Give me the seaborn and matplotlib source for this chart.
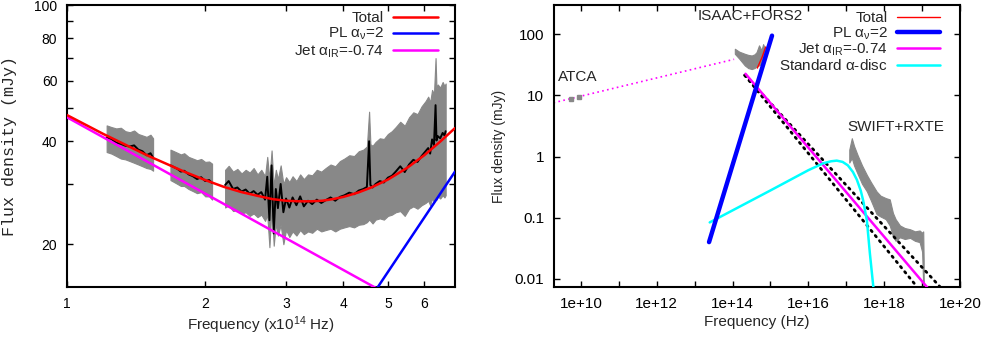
import numpy as np
import pandas as pd
import matplotlib
matplotlib.use("Agg")
import matplotlib.pyplot as plt
from matplotlib.lines import Line2D
from matplotlib.ticker import NullLocator, FixedLocator, FixedFormatter
import seaborn as sns

# ---------------- left panel: IR/optical spectrum (x1e14 Hz, mJy) ----------------
seg1_nu = [1.22, 1.25, 1.28, 1.31, 1.34, 1.37, 1.40, 1.43, 1.46, 1.49, 1.52, 1.54]
seg1_f = [41.0, 40.6, 39.6, 39.3, 38.8, 38.6, 38.9, 37.8, 37.4, 36.4, 36.9, 35.8]
seg1_hi = [44.5, 44.0, 43.6, 43.8, 42.8, 42.5, 43.0, 42.0, 41.6, 41.2, 41.8, 40.8]
seg1_lo = [37.2, 36.8, 36.2, 35.6, 35.4, 35.0, 34.6, 34.2, 33.8, 33.4, 33.2, 32.8]

seg2_nu = [1.68, 1.71, 1.74, 1.77, 1.80, 1.84, 1.88, 1.92, 1.96, 2.00, 2.04, 2.07]
seg2_f = [34.0, 33.6, 33.2, 32.6, 32.8, 32.0, 31.6, 31.0, 31.4, 30.6, 30.8, 30.2]
seg2_hi = [37.8, 37.4, 37.0, 36.6, 36.9, 36.0, 35.6, 35.2, 35.5, 34.8, 34.9, 34.4]
seg2_lo = [30.8, 30.4, 30.0, 29.6, 29.6, 29.0, 28.6, 28.2, 28.4, 27.6, 27.6, 27.0]

seg3_nu = [2.21, 2.25, 2.30, 2.35, 2.40, 2.45, 2.50, 2.55, 2.60, 2.65, 2.70, 2.73, 2.76,
           2.79, 2.82, 2.85, 2.88, 2.92, 2.96, 3.00, 3.05, 3.10, 3.16, 3.22, 3.28, 3.35,
           3.42, 3.50, 3.58, 3.66, 3.75, 3.84, 3.93, 4.02, 4.12, 4.22, 4.32, 4.42, 4.50,
           4.55, 4.58, 4.63, 4.70, 4.80, 4.90, 5.00, 5.10, 5.20, 5.32, 5.44, 5.56, 5.68,
           5.80, 5.92, 6.04, 6.12, 6.18, 6.24, 6.30, 6.35, 6.38, 6.42, 6.50, 6.58, 6.64, 6.68]
seg3_f = [29.8, 30.6, 29.0, 29.3, 28.5, 28.9, 28.1, 28.6, 27.9, 28.4, 27.0, 31.5, 23.5,
          34.0, 21.5, 29.0, 25.5, 30.0, 24.8, 27.2, 25.6, 27.4, 26.0, 27.6, 25.8, 26.8,
          26.2, 27.0, 26.4, 26.9, 27.4, 26.8, 27.5, 27.8, 28.3, 28.0, 28.7, 29.0, 29.4,
          40.0, 29.8, 29.3, 30.0, 30.6, 30.3, 31.3, 31.7, 32.6, 33.8, 32.5, 34.2, 35.3,
          34.8, 36.2, 37.4, 38.2, 36.8, 40.5, 39.0, 51.0, 40.2, 41.4, 40.8, 42.3, 41.6, 42.8]
seg3_hi = [33.0, 33.9, 32.6, 33.2, 32.2, 33.0, 32.4, 33.4, 32.0, 33.0, 31.6, 36.0, 31.0,
           37.6, 29.6, 33.0, 31.0, 34.0, 30.0, 31.4, 30.4, 31.6, 30.6, 32.0, 31.0, 32.0,
           31.8, 33.0, 32.6, 33.4, 34.2, 33.8, 35.0, 35.6, 36.4, 36.2, 37.4, 37.8, 38.6,
           48.8, 39.2, 38.8, 39.8, 40.8, 40.6, 42.0, 42.8, 44.0, 45.6, 44.4, 47.0, 48.6,
           48.0, 50.6, 52.4, 54.0, 52.0, 56.5, 55.0, 70.0, 57.0, 58.6, 57.4, 59.6, 58.0, 59.0]
seg3_lo = [25.6, 26.0, 25.0, 25.2, 24.6, 24.8, 24.2, 24.6, 24.0, 24.4, 23.4, 24.4, 19.6,
           26.0, 19.8, 23.0, 21.2, 22.8, 20.0, 22.0, 21.0, 21.8, 21.2, 22.0, 21.4, 21.8,
           21.6, 22.2, 21.8, 22.0, 22.2, 21.8, 22.2, 22.4, 22.6, 22.4, 22.8, 22.9, 23.2,
           23.6, 23.4, 23.0, 23.6, 23.8, 23.6, 24.2, 24.4, 24.8, 25.0, 24.2, 25.4, 25.8,
           25.4, 26.0, 26.4, 26.8, 26.0, 27.2, 26.6, 27.4, 27.0, 27.6, 27.2, 27.8, 27.4, 27.8]

total_nu = [1.0, 1.2, 1.5, 1.8, 2.0, 2.2, 2.4, 2.6, 2.8, 3.0, 3.2, 3.4, 3.6, 3.8, 4.0,
            4.3, 4.6, 5.0, 5.5, 6.0, 6.5, 7.0]
total_f = [47.7, 42.0, 36.3, 32.6, 30.8, 29.4, 28.4, 27.7, 27.1, 26.8, 26.7, 26.7, 26.8,
           27.1, 27.5, 28.3, 29.3, 30.9, 33.4, 36.4, 39.9, 43.7]
jet_nu = [1.0, 7.0]
jet_f = [47.0, 11.1]
pl_nu = [4.0, 7.0]
pl_f = [10.6, 32.6]

# ---------------- right panel: broadband SED (Hz, mJy) ----------------
atca_nu = [5.5e9, 9.0e9]
atca_f = [8.9, 9.5]
radio_ext_nu = [1.9e9, 1.1e14]
radio_ext_f = [7.6, 39.0]

isaac_nu = [1.15e14, 1.5e14, 2.1e14, 2.6e14, 3.2e14, 3.8e14, 4.3e14, 5.0e14, 5.8e14, 6.4e14, 7.0e14]
isaac_hi = [58, 52, 48, 46, 45, 47, 51, 66, 55, 69, 60]
isaac_lo = [48, 40, 31, 28, 27, 28, 30, 31, 33, 34, 36]

swift_nu = [1.2e17, 1.4e17, 1.6e17, 2.0e17, 2.6e17, 3.5e17, 4.5e17, 6.3e17, 8.0e17, 1.1e18,
            1.4e18, 1.7e18, 2.0e18, 2.6e18, 3.5e18, 4.8e18, 6.5e18, 8.6e18, 1.0e19, 1.07e19, 1.1e19]
swift_hi = [1.3, 2.0, 1.5, 1.05, 0.72, 0.50, 0.38, 0.27, 0.23, 0.21, 0.20, 0.12, 0.095, 0.075,
            0.068, 0.065, 0.060, 0.062, 0.057, 0.060, 0.020]
swift_lo = [0.80, 0.95, 0.72, 0.52, 0.36, 0.27, 0.19, 0.115, 0.105, 0.095, 0.075, 0.05, 0.042,
            0.048, 0.045, 0.047, 0.042, 0.040, 0.028, 0.008, 0.007]

sed_total_nu = [4.5e14, 6.0e14, 7.5e14]
sed_total_f = [28.0, 42.0, 62.0]
sed_pl_nu = [2.4e13, 1.1e15]
sed_pl_f = [0.04, 95.0]
sed_jet_nu = [2.2e14, 1.6e19]
sed_jet_f = [22.6, 0.0065]
jet_lo_nu = [2.1e14, 7.4e18]
jet_lo_f = [21.4, 0.0074]
jet_hi_nu = [2.1e14, 3.0e19]
jet_hi_f = [21.4, 0.0074]
disc_nu = [2.5e13, 1e15, 1e16, 2.5e16, 4e16, 5.6e16, 8e16, 1.1e17, 1.5e17, 1.9e17, 2.4e17,
           2.8e17, 3.5e17, 4.2e17, 5.2e17]
disc_f = [0.084, 0.28, 0.6, 0.78, 0.84, 0.86, 0.82, 0.72, 0.56, 0.42, 0.28, 0.19, 0.09,
          0.026, 0.0072]

# ---------------- style ----------------
sns.set_theme(style="ticks")
plt.rcParams.update({
    "font.family": ["Liberation Sans", "DejaVu Sans"],
    "mathtext.fontset": "custom",
    "mathtext.rm": "Liberation Sans",
    "mathtext.it": "Liberation Sans",
    "mathtext.bf": "Liberation Sans:bold",
    "axes.linewidth": 1.5,
    "axes.edgecolor": "black",
    "xtick.color": "black",
    "ytick.color": "black",
    "xtick.direction": "in",
    "ytick.direction": "in",
})

GREY = "#888888"
RED, BLUE, MAG, CYAN = "#ff0000", "#0000ff", "#ff00ff", "#00ffff"

fig = plt.figure(figsize=(9.81, 3.4), dpi=100)
ax1 = fig.add_axes([0.0683, 0.156, 0.3955, 0.829])
ax2 = fig.add_axes([0.5647, 0.156, 0.4139, 0.829])


def line(ax, x, y, **kw):
    df = pd.DataFrame({"x": x, "y": y})
    sns.lineplot(data=df, x="x", y="y", ax=ax, estimator=None, sort=False, legend=False, **kw)


# ---- left ----
for nu, f, hi, lo in [(seg1_nu, seg1_f, seg1_hi, seg1_lo),
                      (seg2_nu, seg2_f, seg2_hi, seg2_lo),
                      (seg3_nu, seg3_f, seg3_hi, seg3_lo)]:
    ax1.fill_between(nu, lo, hi, color=GREY, lw=0.8, edgecolor=GREY, zorder=1)
    line(ax1, nu, f, color="black", lw=1.4, zorder=2)

line(ax1, jet_nu, jet_f, color=MAG, lw=1.8, zorder=3)
line(ax1, pl_nu, pl_f, color=BLUE, lw=1.8, zorder=3)
line(ax1, total_nu, total_f, color=RED, lw=1.8, zorder=4)

ax1.set_xscale("log")
ax1.set_yscale("log")
ax1.set_xlim(1, 7)
ax1.set_ylim(15, 100)
ax1.xaxis.set_major_locator(FixedLocator([1, 2, 3, 4, 5, 6]))
ax1.xaxis.set_major_formatter(FixedFormatter(["1", "2", "3", "4", "5", "6"]))
ax1.xaxis.set_minor_locator(NullLocator())
yt = [20, 30, 40, 50, 60, 70, 80, 90, 100]
ax1.yaxis.set_major_locator(FixedLocator(yt))
ax1.yaxis.set_major_formatter(FixedFormatter([str(v) if v % 20 == 0 else "" for v in yt]))
ax1.yaxis.set_minor_locator(NullLocator())
ax1.tick_params(which="both", top=True, right=True, length=4, width=1, labelsize=10, pad=7)
ax1.set_xlabel(r"Frequency (x10$^{14}$ Hz)", fontsize=11, labelpad=3)
ax1.set_ylabel("Flux density (mJy)", fontsize=12, family="Liberation Mono", labelpad=12)

h1 = [Line2D([0], [0], color=RED, lw=1.8),
      Line2D([0], [0], color=BLUE, lw=1.8),
      Line2D([0], [0], color=MAG, lw=1.8)]
ax1.legend(h1, ["Total", r"PL $\alpha_{\nu}$=2", r"Jet $\alpha_{\rm IR}$=-0.74"],
           loc="upper right", bbox_to_anchor=(0.955, 0.978), frameon=False,
           markerfirst=False, fontsize=11, handlelength=2.9, handletextpad=0.6,
           labelspacing=0.05, borderpad=0, borderaxespad=0)

# ---- right ----
line(ax2, radio_ext_nu, radio_ext_f, color=MAG, lw=1.2, ls=(0, (1, 2)), zorder=2)
ax2.errorbar(atca_nu, atca_f, yerr=[0.5, 0.5], fmt="s", ms=3, color=GREY, lw=1, zorder=3)
ax2.fill_between(isaac_nu, isaac_lo, isaac_hi, color=GREY, lw=0.8, edgecolor=GREY, zorder=1)
ax2.fill_between(swift_nu, swift_lo, swift_hi, color=GREY, lw=0.8, edgecolor=GREY, zorder=1)

line(ax2, jet_lo_nu, jet_lo_f, color="black", lw=2.0, ls=(0, (0.6, 1.8)),
     dash_capstyle="round", zorder=3)
line(ax2, jet_hi_nu, jet_hi_f, color="black", lw=2.0, ls=(0, (0.6, 1.8)),
     dash_capstyle="round", zorder=3)
line(ax2, sed_jet_nu, sed_jet_f, color=MAG, lw=1.8, zorder=4)
line(ax2, disc_nu, disc_f, color=CYAN, lw=1.8, zorder=4)
line(ax2, sed_pl_nu, sed_pl_f, color=BLUE, lw=3.2, zorder=5)
line(ax2, sed_total_nu, sed_total_f, color=RED, lw=1.0, zorder=4)

ax2.set_xscale("log")
ax2.set_yscale("log")
ax2.set_xlim(1.95e9, 1e20)
ax2.set_ylim(0.0074, 300)
xt = [10.0 ** k for k in range(10, 21)]
ax2.xaxis.set_major_locator(FixedLocator(xt))
ax2.xaxis.set_major_formatter(FixedFormatter([f"1e+{k}" if k % 2 == 0 else "" for k in range(10, 21)]))
ax2.xaxis.set_minor_locator(NullLocator())
ax2.yaxis.set_major_locator(FixedLocator([0.01, 0.1, 1, 10, 100]))
ax2.yaxis.set_major_formatter(FixedFormatter(["0.01", "0.1", "1", "10", "100"]))
ax2.yaxis.set_minor_locator(NullLocator())
ax2.tick_params(which="both", top=True, right=True, length=4, width=1, labelsize=11, pad=7)
ax2.set_xlabel("Frequency (Hz)", fontsize=11, labelpad=3)
ax2.set_ylabel("Flux density (mJy)", fontsize=10, labelpad=6)

ax2.text(2.5e9, 20, "ATCA", fontsize=11, ha="left", va="center")
ax2.text(2.9e14, 200, "ISAAC+FORS2", fontsize=11, ha="center", va="center")
ax2.text(1.1e17, 3.0, "SWIFT+RXTE", fontsize=11, ha="left", va="center")

h2 = [Line2D([0], [0], color=RED, lw=1.0),
      Line2D([0], [0], color=BLUE, lw=3.2),
      Line2D([0], [0], color=MAG, lw=1.8),
      Line2D([0], [0], color=CYAN, lw=1.8)]
ax2.legend(h2, ["Total", r"PL $\alpha_{\nu}$=2", r"Jet $\alpha_{\rm IR}$=-0.74", r"Standard $\alpha$-disc"],
           loc="upper right", bbox_to_anchor=(0.95, 0.978), frameon=False,
           markerfirst=False, fontsize=11, handlelength=2.8, handletextpad=0.6,
           labelspacing=0.0, borderpad=0, borderaxespad=0)

fig.savefig("out.png", dpi=100)
